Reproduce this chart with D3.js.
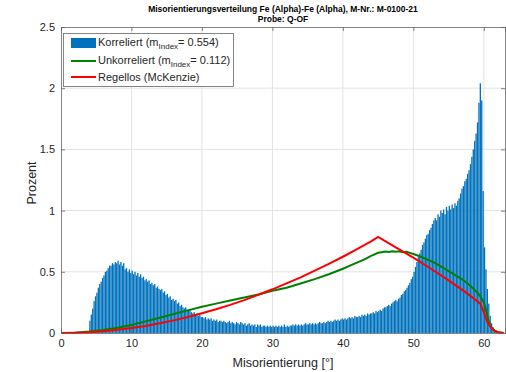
<!DOCTYPE html>
<html>
<head>
<meta charset="utf-8">
<script src="https://cdn.jsdelivr.net/npm/d3@7"></script>
<style>
  html, body { margin: 0; padding: 0; background: #fff; }
  svg { display: block; font-family: "Liberation Sans", Arial, Helvetica, sans-serif; }
</style>
</head>
<body>
<svg id="chart" width="506" height="372"></svg>
<script>
// Misorientation histogram, 0.2° bins starting at 4.0°
const binStart = 4.0;
const binWidth = 0.2;
const korreliert = [
  0.10, 0.15, 0.20, 0.26, 0.30,   // 4°
  0.33, 0.37, 0.40, 0.42, 0.45,   // 5°
  0.47, 0.50, 0.51, 0.53, 0.55,   // 6°
  0.55, 0.57, 0.56, 0.58, 0.57,   // 7°
  0.59, 0.56, 0.58, 0.55, 0.57,   // 8°
  0.52, 0.53, 0.50, 0.52, 0.49,   // 9°
  0.51, 0.48, 0.50, 0.47, 0.49,   // 10°
  0.46, 0.48, 0.45, 0.46, 0.43,   // 11°
  0.44, 0.42, 0.43, 0.40, 0.41,   // 12°
  0.39, 0.40, 0.37, 0.38, 0.36,   // 13°
  0.35, 0.36, 0.33, 0.34, 0.31,   // 14°
  0.32, 0.29, 0.30, 0.27, 0.28,   // 15°
  0.26, 0.27, 0.24, 0.25, 0.22,   // 16°
  0.23, 0.21, 0.20, 0.21, 0.19,   // 17°
  0.18, 0.19, 0.17, 0.16, 0.17,   // 18°
  0.15, 0.16, 0.14, 0.15, 0.13,   // 19°
  0.13, 0.12, 0.13, 0.11, 0.12,   // 20°
  0.11, 0.12, 0.10, 0.11, 0.10,   // 21°
  0.11, 0.09, 0.10, 0.10, 0.09,   // 22°
  0.10, 0.09, 0.08, 0.09, 0.10,   // 23°
  0.08, 0.09, 0.08, 0.07, 0.09,   // 24°
  0.08, 0.07, 0.09, 0.08, 0.07,   // 25°
  0.08, 0.06, 0.07, 0.08, 0.06,   // 26°
  0.07, 0.06, 0.07, 0.05, 0.07,   // 27°
  0.06, 0.07, 0.05, 0.06, 0.06,   // 28°
  0.05, 0.06, 0.05, 0.06, 0.05,   // 29°
  0.06, 0.05, 0.06, 0.05, 0.06,   // 30°
  0.05, 0.06, 0.05, 0.07, 0.05,   // 31°
  0.06, 0.05, 0.06, 0.06, 0.07,   // 32°
  0.06, 0.07, 0.06, 0.07, 0.06,   // 33°
  0.07, 0.06, 0.07, 0.08, 0.07,   // 34°
  0.07, 0.08, 0.07, 0.08, 0.07,   // 35°
  0.08, 0.07, 0.08, 0.09, 0.08,   // 36°
  0.08, 0.09, 0.08, 0.09, 0.10,   // 37°
  0.09, 0.10, 0.09, 0.10, 0.11,   // 38°
  0.10, 0.11, 0.10, 0.11, 0.12,   // 39°
  0.11, 0.12, 0.11, 0.12, 0.13,   // 40°
  0.12, 0.13, 0.12, 0.14, 0.13,   // 41°
  0.13, 0.14, 0.13, 0.15, 0.14,   // 42°
  0.15, 0.14, 0.16, 0.15, 0.16,   // 43°
  0.16, 0.17, 0.16, 0.18, 0.17,   // 44°
  0.18, 0.19, 0.18, 0.20, 0.21,   // 45°
  0.21, 0.22, 0.23, 0.22, 0.24,   // 46°
  0.25, 0.26, 0.27, 0.26, 0.28,   // 47°
  0.29, 0.31, 0.32, 0.34, 0.35,   // 48°
  0.37, 0.39, 0.41, 0.44, 0.46,   // 49°
  0.50, 0.54, 0.58, 0.62, 0.65,   // 50°
  0.68, 0.72, 0.74, 0.77, 0.80,   // 51°
  0.81, 0.84, 0.86, 0.89, 0.92,   // 52°
  0.94, 0.92, 0.97, 0.95, 1.00,   // 53°
  0.98, 1.01, 0.97, 1.03, 1.00,   // 54°
  1.04, 1.01, 1.05, 1.02, 1.06,   // 55°
  1.04, 1.08, 1.10, 1.14, 1.18,   // 56°
  1.20, 1.24, 1.26, 1.30, 1.33,   // 57°
  1.38, 1.44, 1.50, 1.57, 1.63,   // 58°
  1.72, 1.88, 2.04, 1.90, 1.16,   // 59°
  0.70, 0.52, 0.36, 0.24, 0.14,   // 60°
  0.08, 0.05, 0.03, 0.02, 0.01,   // 61°
  0.01, 0.005, 0.003, 0.002       // 62°
];
const binWinkel = korreliert.map((_, i) => binStart + i * binWidth);

// Uncorrelated misorientation distribution
const unkorreliertWinkel = [0, 2, 4, 6, 8, 10, 12, 14, 16, 18, 20, 22, 24, 26, 28, 30, 32, 34, 36, 38, 40, 41, 42, 43, 44, 45,
  45.5, 46, 46.5, 47, 47.5, 48, 48.5, 49, 49.5, 50, 51, 52, 53, 54, 55, 56, 57, 58, 59, 59.5, 60, 60.3, 60.6, 61, 61.5, 62, 62.8];
const unkorreliert = [0, 0.003, 0.012, 0.025, 0.043, 0.065, 0.095, 0.125, 0.155, 0.185, 0.215, 0.24, 0.265, 0.29, 0.315, 0.345,
  0.37, 0.405, 0.44, 0.48, 0.525, 0.55, 0.575, 0.60, 0.63, 0.655,
  0.66, 0.665, 0.662, 0.668, 0.663, 0.667, 0.66, 0.664, 0.655, 0.645, 0.625, 0.60, 0.575, 0.54, 0.505, 0.47, 0.435, 0.39, 0.335,
  0.30, 0.25, 0.19, 0.11, 0.05, 0.02, 0.007, 0];

// Random (McKenzie) distribution
const regellosWinkel = [0, 2, 4, 6, 8, 10, 12, 14, 16, 18, 20, 22, 24, 26, 28, 30, 32, 34, 36, 38, 40, 42, 44, 45,
  47.5, 50, 52.5, 55, 57.5, 59.5, 60, 60.5, 61, 61.5, 62, 62.8];
const regellos = [0, 0.002, 0.0065, 0.0146, 0.026, 0.040, 0.058, 0.079, 0.103, 0.130, 0.161, 0.194, 0.230, 0.269, 0.312, 0.357,
  0.405, 0.455, 0.509, 0.565, 0.623, 0.685, 0.749, 0.785,
  0.70, 0.615, 0.525, 0.43, 0.33, 0.24, 0.17, 0.09, 0.045, 0.018, 0.006, 0];

const xTicks = [0, 10, 20, 30, 40, 50, 60];
const yTicks = [0, 0.5, 1, 1.5, 2, 2.5];
const titel = ["Misorientierungsverteilung Fe (Alpha)-Fe (Alpha), M-Nr.: M-0100-21", "Probe: Q-OF"];

const svg = d3.select("#chart");
const plotL = 61, plotR = 505, plotT = 27, plotB = 333;
const x = d3.scaleLinear().domain([0, 63]).range([plotL, plotR]);
const y = d3.scaleLinear().domain([0, 2.5]).range([plotB, plotT]);

const axisColor = "#666";
const textColor = "#262626";

// grid
const grid = svg.append("g");
grid.selectAll("line.gx").data(xTicks.filter(d => d > 0)).join("line")
  .attr("x1", d => x(d)).attr("x2", d => x(d)).attr("y1", plotT).attr("y2", plotB)
  .attr("stroke", "#e3e3e3").attr("stroke-width", 1);
grid.selectAll("line.gy").data(yTicks.filter(d => d > 0 && d < 2.5)).join("line")
  .attr("x1", plotL).attr("x2", plotR).attr("y1", d => y(d)).attr("y2", d => y(d))
  .attr("stroke", "#e3e3e3").attr("stroke-width", 1);

// histogram bars
const bw = x(binWidth) - x(0);
svg.append("g").selectAll("rect").data(korreliert).join("rect")
  .attr("x", (d, i) => x(binWinkel[i]) + bw * 0.04)
  .attr("width", bw * 0.92)
  .attr("y", d => y(d))
  .attr("height", d => y(0) - y(d))
  .attr("fill", "#0072BD");

// lines
const line = d3.line().x(d => x(d[0])).y(d => y(d[1]));
svg.append("path")
  .datum(unkorreliertWinkel.map((w, i) => [w, unkorreliert[i]]))
  .attr("d", line).attr("fill", "none").attr("stroke", "#008000").attr("stroke-width", 2);
svg.append("path")
  .datum(regellosWinkel.map((w, i) => [w, regellos[i]]))
  .attr("d", line).attr("fill", "none").attr("stroke", "#ff0000").attr("stroke-width", 2);

// axes (box with inward ticks)
const fmt = d => String(d);
const gx = svg.append("g").attr("transform", `translate(0,${plotB})`)
  .call(d3.axisBottom(x).tickValues(xTicks).tickSize(-4).tickPadding(6).tickFormat(fmt));
const gy = svg.append("g").attr("transform", `translate(${plotL},0)`)
  .call(d3.axisLeft(y).tickValues(yTicks).tickSize(-4).tickPadding(6).tickFormat(fmt));
const gt = svg.append("g").attr("transform", `translate(0,${plotT})`)
  .call(d3.axisTop(x).tickValues(xTicks).tickSize(-4).tickFormat(""));
const gr = svg.append("g").attr("transform", `translate(${plotR},0)`)
  .call(d3.axisRight(y).tickValues(yTicks).tickSize(-4).tickFormat(""));
[gx, gy, gt, gr].forEach(g => {
  g.select(".domain").attr("stroke", axisColor).attr("stroke-width", 0.8);
  g.selectAll(".tick line").attr("stroke", axisColor).attr("stroke-width", 0.8);
  g.selectAll("text").attr("fill", textColor).attr("font-size", 11)
    .attr("font-family", "Liberation Sans, Arial, sans-serif");
});

// axis labels
svg.append("text").attr("x", (plotL + plotR) / 2).attr("y", 367)
  .attr("text-anchor", "middle").attr("font-size", 12.5).attr("fill", textColor)
  .text("Misorientierung [°]");
svg.append("text").attr("transform", "translate(36,183) rotate(-90)")
  .attr("text-anchor", "middle").attr("font-size", 12.5).attr("fill", textColor)
  .text("Prozent");

// title
svg.selectAll("text.titel").data(titel).join("text")
  .attr("class", "titel")
  .attr("x", (plotL + plotR) / 2).attr("y", (d, i) => 12 + i * 10)
  .attr("text-anchor", "middle").attr("font-size", 8.5).attr("font-weight", "bold")
  .attr("fill", "#000").text(d => d);

// legend
const lg = svg.append("g");
lg.append("rect").attr("x", 63.5).attr("y", 33.5).attr("width", 170).attr("height", 53)
  .attr("fill", "#fff").attr("stroke", axisColor).attr("stroke-width", 0.8);
lg.append("rect").attr("x", 71).attr("y", 38).attr("width", 25).attr("height", 10).attr("fill", "#0072BD");
lg.append("line").attr("x1", 71).attr("x2", 96).attr("y1", 61).attr("y2", 61)
  .attr("stroke", "#008000").attr("stroke-width", 2);
lg.append("line").attr("x1", 71).attr("x2", 96).attr("y1", 77).attr("y2", 77)
  .attr("stroke", "#ff0000").attr("stroke-width", 2);

const legendRows = [
  { y: 46, pre: "Korreliert (m", sub: "Index", post: "= 0.554)" },
  { y: 64, pre: "Unkorreliert (m", sub: "Index", post: "= 0.112)" },
  { y: 81, pre: "Regellos (McKenzie)", sub: null, post: null }
];
legendRows.forEach(r => {
  const t = lg.append("text").attr("x", 98).attr("y", r.y).attr("font-size", 11).attr("fill", textColor);
  t.append("tspan").text(r.pre);
  if (r.sub) {
    t.append("tspan").attr("dy", 3).attr("font-size", 8).text(r.sub);
    t.append("tspan").attr("dy", -3).text(r.post);
  }
});
</script>
</body>
</html>
